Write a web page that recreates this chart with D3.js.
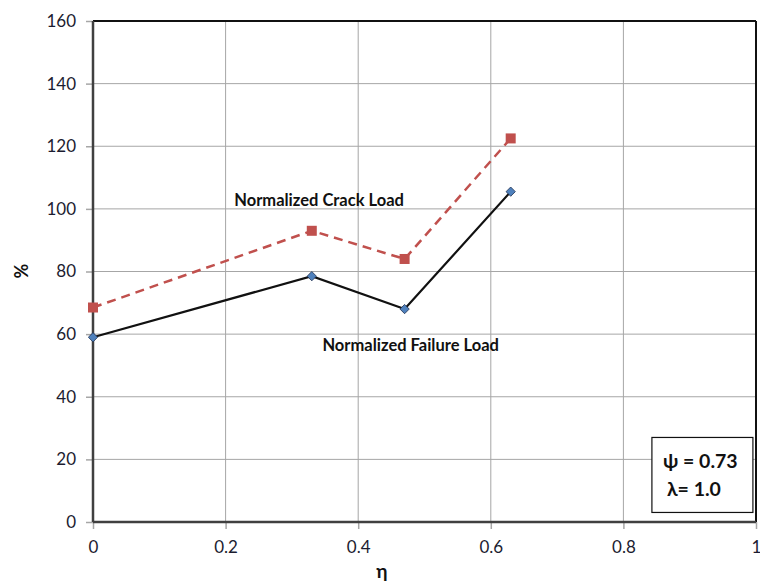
<!DOCTYPE html>
<html>
<head>
<meta charset="utf-8">
<script src="https://cdn.jsdelivr.net/npm/d3@7"></script>
<style>
  body { margin: 0; background: #fff; }
  svg text { font-family: Lato, "Open Sans", sans-serif; }
</style>
</head>
<body>
<svg id="chart" width="760" height="583"></svg>
<script>
// Data
const etaValues = [0, 0.33, 0.47, 0.63];
const crackLoad = [68.5, 93, 84, 122.5];
const failureLoad = [59, 78.5, 68, 105.5];
const xTicks = [0, 0.2, 0.4, 0.6, 0.8, 1];
const yTicks = [0, 20, 40, 60, 80, 100, 120, 140, 160];

const margin = { top: 21, right: 4, bottom: 61, left: 93 };
const width = 760 - margin.left - margin.right;
const height = 583 - margin.top - margin.bottom;

const svg = d3.select("#chart")
    .append("g")
    .attr("transform", `translate(${margin.left}, ${margin.top})`);

const xScale = d3.scaleLinear().domain([0, 1]).range([0, width]);
const yScale = d3.scaleLinear().domain([0, 160]).range([height, 0]);

// Grid
svg.selectAll(".xGrid")
    .data(xTicks.slice(1, -1))
    .join("line")
    .attr("x1", d => xScale(d)).attr("x2", d => xScale(d))
    .attr("y1", 0).attr("y2", height)
    .attr("stroke", "#a6a6a6").attr("stroke-width", 1);

svg.selectAll(".yGrid")
    .data(yTicks.slice(1, -1))
    .join("line")
    .attr("x1", 0).attr("x2", width)
    .attr("y1", d => yScale(d)).attr("y2", d => yScale(d))
    .attr("stroke", "#a6a6a6").attr("stroke-width", 1);

// Axes
const xAxis = d3.axisBottom(xScale).tickValues(xTicks).tickFormat(d3.format("")).tickSize(7).tickPadding(12);
const yAxis = d3.axisLeft(yScale).tickValues(yTicks).tickSize(7).tickPadding(10);

const xg = svg.append("g")
    .attr("transform", `translate(0, ${height})`)
    .call(xAxis);
const yg = svg.append("g").call(yAxis);

[xg, yg].forEach(g => {
    g.select(".domain").remove();
    g.selectAll(".tick line").attr("stroke", "#a6a6a6").attr("stroke-width", 1.5);
    g.selectAll(".tick text")
        .style("font-size", "17px")
        .style("font-family", "Lato, 'Open Sans', sans-serif")
        .attr("fill", "#1c1c30");
});

// Frame
svg.append("line").attr("x1", 0).attr("x2", width).attr("y1", 0).attr("y2", 0)
    .attr("stroke", "#111").attr("stroke-width", 2);
svg.append("line").attr("x1", width).attr("x2", width).attr("y1", 0).attr("y2", height)
    .attr("stroke", "#111").attr("stroke-width", 2);
svg.append("line").attr("x1", 0).attr("x2", 0).attr("y1", 0).attr("y2", height)
    .attr("stroke", "#404040").attr("stroke-width", 2.5);
svg.append("line").attr("x1", 0).attr("x2", width).attr("y1", height).attr("y2", height)
    .attr("stroke", "#404040").attr("stroke-width", 2.5);

// Lines
const crackPts = etaValues.map((x, i) => [x, crackLoad[i]]);
const failPts = etaValues.map((x, i) => [x, failureLoad[i]]);

const lineGenerator = d3.line()
    .x(d => xScale(d[0]))
    .y(d => yScale(d[1]));

svg.append("path")
    .datum(crackPts)
    .attr("d", lineGenerator)
    .attr("fill", "none")
    .attr("stroke", "#c0504d")
    .attr("stroke-width", 2.5)
    .attr("stroke-dasharray", "9,6");

svg.append("path")
    .datum(failPts)
    .attr("d", lineGenerator)
    .attr("fill", "none")
    .attr("stroke", "#111")
    .attr("stroke-width", 2.2);

// Markers
svg.selectAll(".sq")
    .data(crackPts)
    .join("rect")
    .attr("x", d => xScale(d[0]) - 5)
    .attr("y", d => yScale(d[1]) - 5)
    .attr("width", 10).attr("height", 10)
    .attr("fill", "#c0504d");

svg.selectAll(".dia")
    .data(failPts)
    .join("path")
    .attr("d", d3.symbol().type(d3.symbolDiamond2).size(55))
    .attr("transform", d => `translate(${xScale(d[0])}, ${yScale(d[1])})`)
    .attr("fill", "#4f81bd")
    .attr("stroke", "#1f3050")
    .attr("stroke-width", 0.8);

// Series labels
svg.append("text")
    .attr("x", xScale(0.213)).attr("y", yScale(101))
    .style("font-size", "16.5px").style("font-weight", "bold")
    .attr("fill", "#111")
    .text("Normalized Crack Load");

svg.append("text")
    .attr("x", xScale(0.346)).attr("y", yScale(54.5))
    .style("font-size", "16.5px").style("font-weight", "bold")
    .attr("fill", "#111")
    .text("Normalized Failure Load");

// Parameter box
const box = svg.append("g").attr("transform", `translate(${xScale(0.843)}, ${yScale(27)})`);
box.append("rect")
    .attr("width", 101).attr("height", 75)
    .attr("fill", "#fff").attr("stroke", "#111").attr("stroke-width", 1.2);
box.append("text").attr("x", 11).attr("y", 31)
    .style("font-size", "19.5px").style("font-weight", "bold").attr("fill", "#111")
    .text("ψ = 0.73");
box.append("text").attr("x", 15).attr("y", 59)
    .style("font-size", "19.5px").style("font-weight", "bold").attr("fill", "#111")
    .text("λ= 1.0");

// Axis titles
d3.select("#chart").append("text")
    .attr("x", 382).attr("y", 578)
    .attr("text-anchor", "middle")
    .style("font-size", "19px").style("font-weight", "bold").attr("fill", "#111")
    .text("η");

d3.select("#chart").append("text")
    .attr("transform", "translate(28, 271) rotate(-90)")
    .attr("text-anchor", "middle")
    .style("font-size", "18px").style("font-weight", "bold").attr("fill", "#111")
    .text("%");
</script>
</body>
</html>
